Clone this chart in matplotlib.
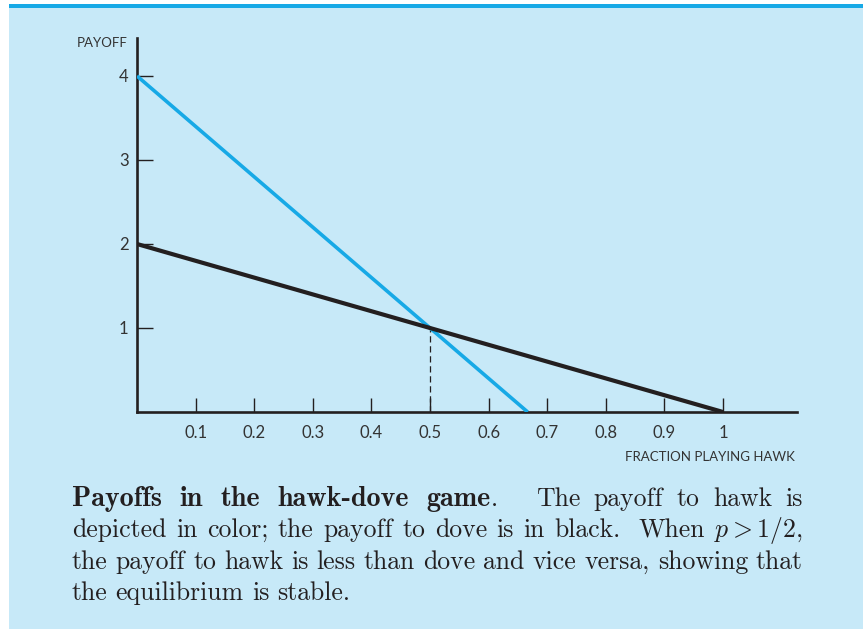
import matplotlib
matplotlib.use('Agg')
import matplotlib.pyplot as plt
from matplotlib.patches import Rectangle

# data
hawk_x = [0.0, 2 / 3]
hawk_y = [4.0, 0.0]
dove_x = [0.0, 1.0]
dove_y = [2.0, 0.0]
eq_x = 0.5
eq_y = 1.0
xticks = [0.1, 0.2, 0.3, 0.4, 0.5, 0.6, 0.7, 0.8, 0.9, 1.0]
xtick_labels = ['0.1', '0.2', '0.3', '0.4', '0.5', '0.6', '0.7', '0.8', '0.9', '1']
yticks = [1, 2, 3, 4]
ytick_labels = ['1', '2', '3', '4']

# (word, style); style 'b' bold, 'r' roman, 'b.' bold word + roman period
caption_lines = [
    [('Payoffs', 'b'), ('in', 'b'), ('the', 'b'), ('hawk-dove', 'b'), ('game', 'b.'),
     ('The', 'r'), ('payoff', 'r'), ('to', 'r'), ('hawk', 'r'), ('is', 'r')],
    [(w, 'r') for w in 'depicted in color; the payoff to dove is in black. When'.split()]
    + [('$p > 1/2$,', 'r')],
    [(w, 'r') for w in 'the payoff to hawk is less than dove and vice versa, showing that'.split()],
    [(w, 'r') for w in 'the equilibrium is stable.'.split()],
]

W, H = 863, 629
bg = '#c7e9f8'
blue = '#17a9e6'
ink = '#231f20'
txt = '#333333'

plt.rcParams['mathtext.fontset'] = 'cm'
fig = plt.figure(figsize=(W / 100, H / 100), dpi=100)
fig.patch.set_facecolor('white')

# panel and top bar
fig.add_artist(Rectangle((9 / W, 0), 1 - 9 / W, (H - 8) / H,
                         transform=fig.transFigure, facecolor=bg, edgecolor='none', zorder=0))
fig.add_artist(Rectangle((9 / W, (H - 8) / H), 1 - 9 / W, 4 / H,
                         transform=fig.transFigure, facecolor=blue, edgecolor='none', zorder=0))

x0, y0 = 137, 412
xunit, yunit = 586.0, 84.0
ax = fig.add_axes([x0 / W, (H - y0) / H, (797 - x0) / W, (y0 - 38) / H])
ax.set_facecolor('none')
ax.set_xlim(0, (797 - x0) / xunit)
ax.set_ylim(0, (y0 - 38) / yunit)

for s in ['top', 'right']:
    ax.spines[s].set_visible(False)
for s in ['left', 'bottom']:
    ax.spines[s].set_linewidth(1.9)
    ax.spines[s].set_color(ink)

ax.plot(hawk_x, hawk_y, color=blue, lw=2.6, solid_capstyle='butt', zorder=3)
ax.plot(dove_x, dove_y, color=ink, lw=3.0, solid_capstyle='butt', zorder=4)
ax.plot([eq_x, eq_x], [0, eq_y], color=ink, lw=0.9, dashes=(5, 3), zorder=2)

ax.set_xticks(xticks)
ax.set_xticklabels(xtick_labels)
ax.set_yticks(yticks)
ax.set_yticklabels(ytick_labels)
ax.tick_params(axis='x', direction='in', length=10, width=1.0, color=ink, pad=9,
               labelsize=12, labelcolor=txt)
ax.tick_params(axis='y', direction='in', length=11.5, width=1.0, color=ink, pad=6,
               labelsize=12, labelcolor=txt)
for lab in ax.get_xticklabels() + ax.get_yticklabels():
    lab.set_fontfamily('Lato')

fig.text(128 / W, 1 - 43 / H, 'PAYOFF', ha='right', va='center', fontsize=9.5,
         color=txt, family='Lato')
fig.text(795 / W, 1 - 457 / H, 'FRACTION PLAYING HAWK', ha='right', va='center',
         fontsize=9.5, color=txt, family='Lato')

# justified caption
renderer = fig.canvas.get_renderer()
left, right = 72, 803
baselines = [506, 537, 569, 600]
space_em = 0.31
bold_scale = 1.09


def make_words(line, fs):
    items = []
    for word, style in line:
        if style == 'b.':
            grp = [fig.text(0, 0, word, fontsize=fs * bold_scale, family='cmb10', color=ink,
                            va='baseline'),
                   fig.text(0, 0, '.', fontsize=fs, family='cmr10', color=ink, va='baseline')]
        elif style == 'b':
            grp = [fig.text(0, 0, word, fontsize=fs * bold_scale, family='cmb10', color=ink,
                            va='baseline')]
        else:
            grp = [fig.text(0, 0, word, fontsize=fs, family='cmr10', color=ink, va='baseline')]
        items.append(grp)
    return items


def word_widths(items):
    return [sum(t.get_window_extent(renderer).width for t in grp) for grp in items]


# pick a font size so line 3 fits with a normal interword space
fs = 17.0
for _ in range(2):
    probe = make_words(caption_lines[2], fs)
    natural = sum(word_widths(probe)) + (len(probe) - 1) * space_em * fs * 100 / 72
    for grp in probe:
        for t in grp:
            t.remove()
    fs = fs * (right - left) / natural

for i, (line, base) in enumerate(zip(caption_lines, baselines)):
    items = make_words(line, fs)
    widths = word_widths(items)
    weights = []
    for word, style in line[:-1]:
        if style == 'b.':
            weights.append(2.8)
        elif style == 'b':
            weights.append(1.3)
        elif word.endswith('.'):
            weights.append(1.8)
        else:
            weights.append(1.0)
    if i < len(caption_lines) - 1:
        unit = (right - left - sum(widths)) / sum(weights)
    else:
        unit = space_em * fs * 100 / 72
    x = left
    for k, (grp, w) in enumerate(zip(items, widths)):
        xx = x
        for t in grp:
            t.set_position((xx / W, 1 - base / H))
            xx += t.get_window_extent(renderer).width
        if k < len(weights):
            x += w + unit * weights[k]

fig.savefig('out.png', dpi=100, facecolor=fig.get_facecolor())
